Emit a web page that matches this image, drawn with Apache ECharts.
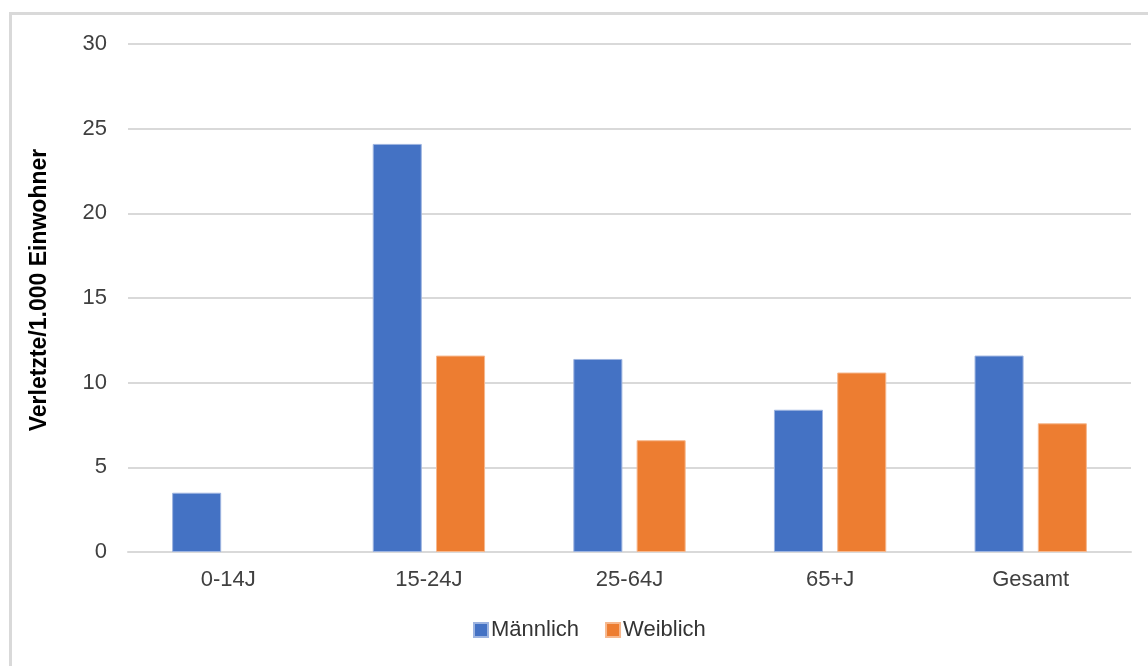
<!DOCTYPE html>
<html>
<head>
<meta charset="utf-8">
<script src="https://cdn.jsdelivr.net/npm/echarts@6/dist/echarts.min.js"></script>
<style>
  html, body { margin:0; padding:0; background:#fff; }
  #chart { position:absolute; left:0; top:0; width:1148px; height:666px; }
  #frame { position:absolute; left:9px; top:12px; width:1200px; height:700px; border-top:3px solid #d9d9d9; border-left:3px solid #d9d9d9; pointer-events:none; }
</style>
</head>
<body>
<div id="chart"></div>
<div id="frame"></div>
<script>
// data
const categories = ['0-14J', '15-24J', '25-64J', '65+J', 'Gesamt']
const maleValues = [3.5, 24.1, 11.4, 8.4, 11.6]
const femaleValues = ['-', 11.6, 6.6, 10.6, 7.6]
const yTicks = { min: 0, max: 30, interval: 5 }

const font = '"Liberation Sans", Arial, sans-serif'

const chart = echarts.init(document.getElementById('chart'), null, { renderer: 'canvas' })
chart.setOption({
  animation: false,
  backgroundColor: 'transparent',
  textStyle: { fontFamily: font },
  grid: { left: 128, right: 17, top: 44, bottom: 114, containLabel: false },
  legend: {
    bottom: 20,
    left: 468,
    itemWidth: 14,
    itemHeight: 14,
    itemGap: 26,
    icon: 'rect',
    textStyle: { fontFamily: font, fontSize: 22, color: '#333', padding: [0, 0, 0, -2] },
    data: ['Männlich', 'Weiblich'],
  },
  xAxis: {
    type: 'category',
    data: categories,
    axisLine: { lineStyle: { color: '#d9d9d9', width: 2 } },
    axisTick: { show: false },
    axisLabel: { color: '#404040', fontSize: 22, fontFamily: font, margin: 17 },
  },
  yAxis: {
    type: 'value',
    min: yTicks.min,
    max: yTicks.max,
    interval: yTicks.interval,
    name: 'Verletzte/1.000 Einwohner',
    nameLocation: 'middle',
    nameGap: 77,
    nameTextStyle: { fontFamily: font, fontSize: 23, fontWeight: 'bold', color: '#000', padding: [0, 0, 0, 16] },
    axisLine: { show: false },
    axisTick: { show: false },
    axisLabel: { color: '#404040', fontSize: 22, fontFamily: font, margin: 21 },
    splitLine: { lineStyle: { color: '#d9d9d9', width: 2 } },
  },
  series: [
    {
      name: 'Männlich',
      type: 'bar',
      data: maleValues,
      barGap: '29%',
      barCategoryGap: '44%',
      itemStyle: { color: '#4472c4', borderColor: '#9db4e0', borderWidth: 1 },
    },
    {
      name: 'Weiblich',
      type: 'bar',
      data: femaleValues,
      itemStyle: { color: '#ed7d31', borderColor: '#f6b88e', borderWidth: 1 },
    },
  ],
})
</script>
</body>
</html>
